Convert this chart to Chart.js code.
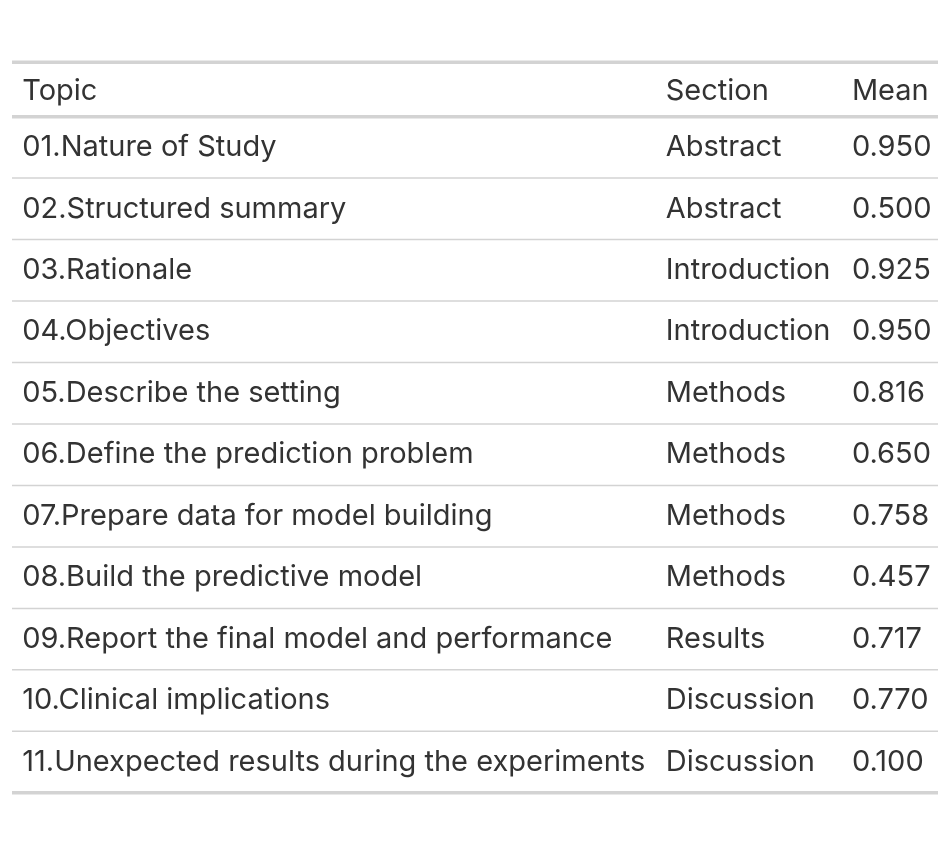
<!DOCTYPE html>
<html lang="en">
<head>
<meta charset="UTF-8">
<title>Topic table</title>
<script src="https://cdn.jsdelivr.net/npm/chart.js"></script>
<style>
  html, body { margin: 0; padding: 0; background: #fff; overflow: hidden; }
  canvas { display: block; }
</style>
</head>
<body>
<canvas id="tbl" width="948" height="854" style="width:948px;height:854px"></canvas>
<script>
const headers = ['Topic', 'Section', 'Mean'];
const topics = [
  '01.Nature of Study', '02.Structured summary', '03.Rationale', '04.Objectives',
  '05.Describe the setting', '06.Define the prediction problem',
  '07.Prepare data for model building', '08.Build the predictive model',
  '09.Report the final model and performance', '10.Clinical implications',
  '11.Unexpected results during the experiments'
];
const sections = ['Abstract', 'Abstract', 'Introduction', 'Introduction', 'Methods',
  'Methods', 'Methods', 'Methods', 'Results', 'Discussion', 'Discussion'];
const means = [0.950, 0.500, 0.925, 0.950, 0.816, 0.650, 0.758, 0.457, 0.717, 0.770, 0.100];

// column anchors on a 0..1 x scale (all left aligned)
const cols = [0.011, 0.706, 0.907];

const tablePlugin = {
  id: 'tablePlugin',
  afterDraw(chart) {
    const ctx = chart.ctx;
    const xs = chart.scales.x, ys = chart.scales.y;
    const left = chart.chartArea.left, right = chart.chartArea.right;
    const font = '29px Inter, "Noto Sans", sans-serif';
    const line = (v, w) => {
      const y = ys.getPixelForValue(v);
      ctx.beginPath();
      ctx.strokeStyle = '#d3d3d3';
      ctx.lineWidth = w;
      ctx.moveTo(left, y); ctx.lineTo(right, y); ctx.stroke();
    };
    const cell = (txt, c, v) => {
      ctx.fillStyle = '#333333';
      ctx.font = font;
      ctx.textAlign = 'left';
      ctx.textBaseline = 'middle';
      ctx.fillText(txt, xs.getPixelForValue(cols[c]), ys.getPixelForValue(v));
    };
    ctx.save();
    const headTop = ys.min;
    headers.forEach((h, c) => cell(h, c, headTop / 2 + 0.03));
    topics.forEach((t, i) => {
      const mid = i + 0.5;
      cell(t, 0, mid);
      cell(sections[i], 1, mid);
      cell(means[i].toFixed(3), 2, mid);
      if (i < topics.length - 1) line(i + 1, 1.5);
    });
    line(headTop, 3.5);
    line(0, 3.5);
    line(topics.length, 3.5);
    ctx.restore();
  }
};

new Chart(document.getElementById('tbl'), {
  type: 'bar',
  data: { labels: topics, datasets: [{ data: [], backgroundColor: 'transparent' }] },
  options: {
    responsive: false,
    animation: false,
    devicePixelRatio: 1,
    indexAxis: 'y',
    layout: { padding: { left: 12, right: 10, top: 10, bottom: 9 } },
    plugins: { legend: { display: false }, tooltip: { enabled: false } },
    scales: {
      x: { type: 'linear', min: 0, max: 1, display: false },
      y: { type: 'linear', min: -62 / 70, max: topics.length, reverse: true, display: false }
    }
  },
  plugins: [tablePlugin]
});
</script>
</body>
</html>
